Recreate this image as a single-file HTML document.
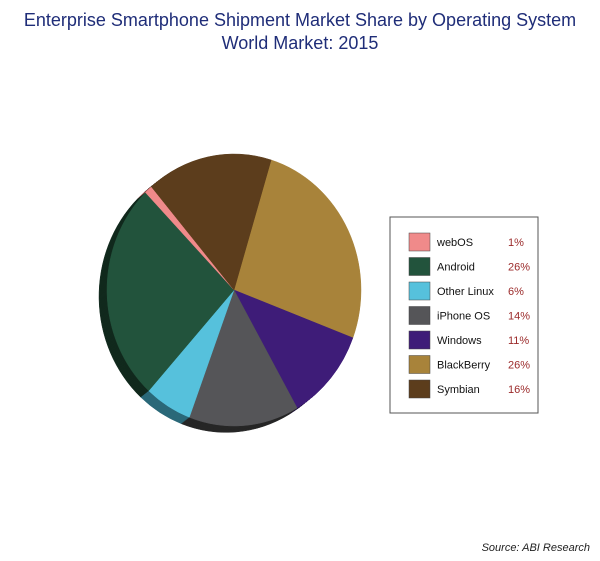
<!DOCTYPE html>
<html><head><meta charset="utf-8"><style>
body{margin:0;background:#fff;}
svg{display:block;font-family:"Liberation Sans",sans-serif;}
</style></head><body>
<svg width="600" height="561" viewBox="0 0 600 561">
<text x="300" y="26" text-anchor="middle" font-size="18" fill="#1f2d78">Enterprise Smartphone Shipment Market Share by Operating System</text>
<text x="300" y="49" text-anchor="middle" font-size="18" fill="#1f2d78">World Market: 2015</text>
<g id="depth"></g>
<g id="pie"></g>
<rect x="390" y="217" width="148" height="196" fill="#fff" stroke="#555" stroke-width="1"/>
<g id="legend"></g>
<text x="590" y="551" text-anchor="end" font-size="11" font-style="italic" fill="#222">Source: ABI Research</text>
</svg>
<script>
const categories=["BlackBerry","Windows","iPhone OS","Other Linux","Android","webOS","Symbian"];
const values=[26,11,14,6,26,1,16];
const legendOrder=["webOS","Android","Other Linux","iPhone OS","Windows","BlackBerry","Symbian"];
const legendValues=["1%","26%","6%","14%","11%","26%","16%"];
const colors={"webOS":"#f08a8a","Android":"#22533c","Other Linux":"#56c1dc","iPhone OS":"#555558","Windows":"#3e1c78","BlackBerry":"#a8833a","Symbian":"#5c3d1c"};
const dark={"webOS":"#a05050","Android":"#11291d","Other Linux":"#2a6878","iPhone OS":"#262626","Windows":"#201040","BlackBerry":"#5a4520","Symbian":"#2e1e0e"};
const NS="http://www.w3.org/2000/svg";
const cx=234,cy=290,rx=127,ry=136,start=17;
function pt(a,ox,oy){const r=a*Math.PI/180;return [cx+ox+rx*Math.sin(r),cy+oy-ry*Math.cos(r)];}
function slicePath(a0,a1,ox,oy){const p0=pt(a0,ox,oy),p1=pt(a1,ox,oy);const large=(a1-a0)>180?1:0;
return `M${cx+ox},${cy+oy} L${p0[0]},${p0[1]} A${rx},${ry} 0 ${large} 1 ${p1[0]},${p1[1]} Z`;}
const total=values.reduce((a,b)=>a+b,0);
function draw(g,ox,oy,pal,kind){let a=start;
values.forEach((v,i)=>{const a1=a+v/total*360;const p=document.createElementNS(NS,"path");
p.setAttribute("d",slicePath(a,a1,ox,oy));p.setAttribute("fill",pal[categories[i]]);
p.setAttribute("stroke",pal[categories[i]]);p.setAttribute("stroke-width","0.5");


g.appendChild(p);a=a1;});}
const dg=document.getElementById("depth");
for(let k=8;k>=1;k-=1){draw(dg,-k,k*0.8,dark,"slice-depth");}
draw(document.getElementById("pie"),0,0,colors,"slice");
const lg=document.getElementById("legend");
legendOrder.forEach((n,i)=>{const y=242+i*24.5;
const r=document.createElementNS(NS,"rect");r.setAttribute("x",409);r.setAttribute("y",y-9);r.setAttribute("width",21);r.setAttribute("height",18);r.setAttribute("fill",colors[n]);r.setAttribute("stroke","#444");r.setAttribute("stroke-width","0.5");


lg.appendChild(r);
const t=document.createElementNS(NS,"text");t.setAttribute("x",437);t.setAttribute("y",y+4);t.setAttribute("font-size","11");t.setAttribute("fill","#111");t.textContent=n;


lg.appendChild(t);
const v=document.createElementNS(NS,"text");v.setAttribute("x",508);v.setAttribute("y",y+4);v.setAttribute("font-size","11");v.setAttribute("fill","#9b2a2a");v.textContent=legendValues[i];


lg.appendChild(v);});
</script>
</body></html>
